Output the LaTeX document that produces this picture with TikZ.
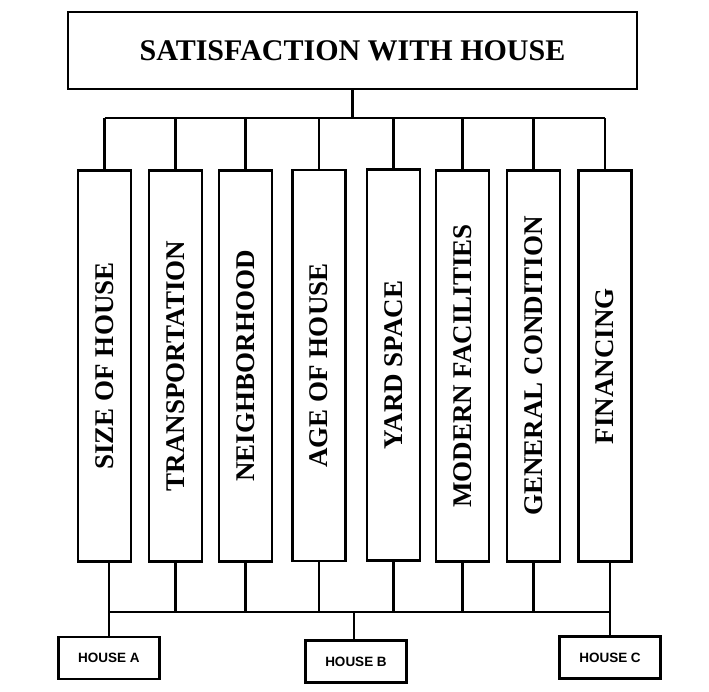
\documentclass[tikz,border=0pt]{standalone}
\usepackage{fontspec}
\setmainfont{Liberation Serif}
\newfontfamily\hsans{Liberation Sans}
\begin{document}
\begin{tikzpicture}[x=1pt,y=-1pt,
  box/.style={draw, line width=2.2pt, fill=white, inner sep=0pt},
  factor/.style={box, rotate=90, minimum width=391pt, minimum height=53pt,
    font=\fontsize{27}{27}\selectfont\bfseries},
  housebox/.style={box, minimum width=101pt, minimum height=42pt,
    font=\hsans\fontsize{13.5}{13.5}\selectfont\bfseries},
  wire/.style={line width=2.2pt}]
\useasboundingbox (0,0) rectangle (709,691);
\node[box, minimum width=569pt, minimum height=77pt,
  font=\fontsize{30}{30}\selectfont\bfseries] (top) at (352.5,50.5) {SATISFACTION WITH HOUSE};
\node[factor] (f1) at (104.5,366) {SIZE OF HOUSE};
\node[factor] (f2) at (175.5,366) {TRANSPORTATION};
\node[factor] (f3) at (245.5,366) {NEIGHBORHOOD};
\node[factor] (f4) at (319,365.5) {AGE OF HOUSE};
\node[factor] (f5) at (393.5,365) {YARD SPACE};
\node[factor] (f6) at (462.5,366) {MODERN FACILITIES};
\node[factor] (f7) at (533.5,366) {GENERAL CONDITION};
\node[factor] (f8) at (605,366) {FINANCING};
\node[housebox] (ha) at (109,658) {HOUSE A};
\node[housebox] (hb) at (356,661.5) {HOUSE B};
\node[housebox] (hc) at (610,657.5) {HOUSE C};
\coordinate (tbus) at (352.5,118);
\coordinate (bbus) at (354,612);
% upper tree
\draw[wire] (top.south) -- (tbus);
\draw[wire] (f1.east |- tbus) -- (f8.east |- tbus);
\foreach \i in {1,...,8} \draw[wire] (f\i.east |- tbus) -- (f\i.east);
% lower tree
\draw[wire] (ha.north |- bbus) -- (hc.north |- bbus);
\draw[wire] (f1.west -| ha.north) -- (ha.north);
\foreach \i in {2,...,7} \draw[wire] (f\i.west) -- (f\i.west |- bbus);
\draw[wire] (f8.west -| hc.north) -- (hc.north);
\draw[wire] (bbus) -- (bbus |- hb.north);
\end{tikzpicture}
\end{document}
